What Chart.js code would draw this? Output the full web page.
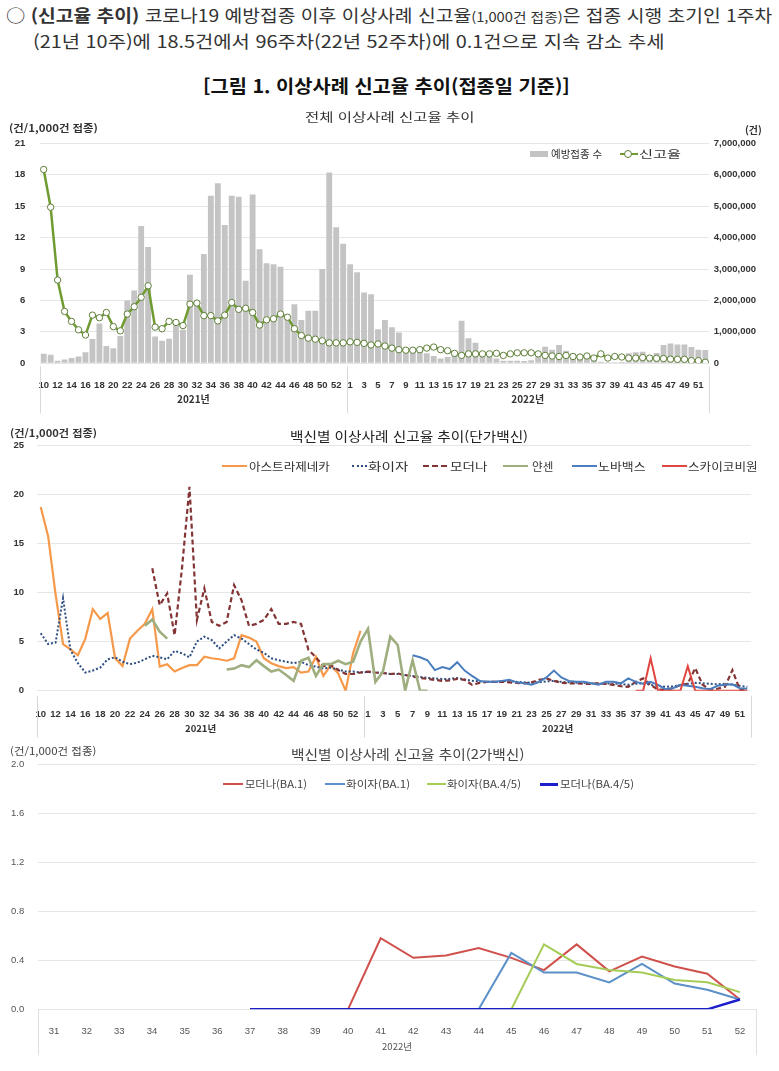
<!DOCTYPE html>
<html lang="ko">
<head>
<meta charset="utf-8">
<script src="https://cdn.jsdelivr.net/npm/chart.js@4.4.1/dist/chart.umd.min.js"></script>
<style>
  body { margin:0; width:779px; height:1071px; background:#fff; position:relative; overflow:hidden;
         font-family:"Noto Sans CJK KR", "Noto Sans", sans-serif; color:#222; }
  canvas { position:absolute; left:0; }
  .t { position:absolute; white-space:nowrap; line-height:1.2; transform-origin:0 50%; }
  .sw { position:absolute; height:0; }
</style>
</head>
<body>
<canvas id="c1" width="779" height="320" style="top:100px"></canvas>
<canvas id="c2" width="779" height="320" style="top:420px"></canvas>
<canvas id="c3" width="779" height="331" style="top:740px"></canvas>
<script>
// ---- categories ----
const weeks2021 = ['10','11','12','13','14','15','16','17','18','19','20','21','22','23','24','25','26','27','28','29','30','31',
  '32','33','34','35','36','37','38','39','40','41','42','43','44','45','46','47','48','49','50','51','52','53'];
const weeks2022 = ['1','2','3','4','5','6','7','8','9','10','11','12','13','14','15','16','17','18','19','20','21','22','23','24','25','26',
  '27','28','29','30','31','32','33','34','35','36','37','38','39','40','41','42','43','44','45','46','47','48','49','50','51','52'];
const yearNames = ['2021년', '2022년'];
const bivalentWeeks = ['31','32','33','34','35','36','37','38','39','40','41','42','43','44','45','46','47','48','49','50','51','52'];

// ---- chart 1: doses (건) and report rate (건/1,000건 접종) ----
const doses2021 = [300000,270000,80000,120000,170000,220000,350000,770000,1270000,550000,480000,870000,2000000,2320000,
  4370000,3700000,850000,720000,780000,1220000,1070000,2820000,1830000,3480000,5330000,5730000,4400000,5330000,5300000,
  2630000,5370000,3630000,3180000,3150000,3070000,1430000,1880000,1380000,1670000,1670000,3000000,6070000,4330000,3800000];
const doses2022 = [3150000,2900000,2250000,2200000,1080000,1380000,1150000,980000,430000,400000,370000,320000,230000,150000,
  200000,280000,1350000,800000,650000,370000,220000,150000,80000,80000,80000,70000,100000,220000,530000,430000,580000,
  400000,300000,250000,170000,130000,50000,30000,30000,40000,320000,350000,370000,230000,330000,580000,630000,600000,
  600000,520000,430000,420000];
const rate2021 = [18.5,14.9,7.95,4.95,4.0,3.2,2.7,4.6,4.35,4.85,3.5,3.1,4.7,5.4,6.3,7.4,3.45,3.3,4.0,3.9,3.6,5.65,5.75,
  4.55,4.55,4.05,4.6,5.8,5.15,5.25,4.85,3.65,4.15,4.25,4.7,4.4,3.3,2.65,2.4,2.3,2.15,1.95,1.95,1.95];
const rate2022 = [2.05,2.0,1.9,1.75,1.85,1.65,1.45,1.3,1.25,1.25,1.3,1.45,1.55,1.3,1.2,0.95,0.75,0.9,0.9,0.9,0.9,0.95,
  0.75,0.9,1.0,1.0,1.0,0.9,0.75,0.7,0.65,0.75,0.65,0.6,0.7,0.5,0.9,0.5,0.65,0.6,0.5,0.5,0.55,0.5,0.48,0.45,0.4,0.38,
  0.38,0.25,0.25,0.1];

// ---- chart 2: single-strain vaccines ----
const az2021 = [18.7,15.7,9.8,4.75,4.2,3.6,5.3,8.3,7.3,7.9,3.3,2.5,5.3,6.1,6.8,8.3,2.45,2.7,1.95,2.3,2.6,2.6,3.45,3.3,
  3.2,3.05,3.3,5.65,5.4,5.0,3.3,2.8,2.5,2.3,2.4,1.85,1.95,3.45,1.5,2.6,1.75,0,3.8,6.1];
const pfizer2021 = [5.85,4.75,4.9,9.4,4.15,2.8,1.85,2.05,2.35,3.2,3.4,2.95,2.7,2.85,3.2,3.55,3.4,3.2,4.05,3.8,3.4,5.0,
  5.5,5.15,4.3,5.0,5.65,5.3,4.75,4.2,3.85,3.3,3.1,2.95,2.8,2.95,2.6,2.45,2.25,2.35,2.15,1.95,1.95,1.85];
const pfizer2022 = [1.9,1.85,1.8,1.7,1.7,1.6,1.5,1.4,1.3,1.25,1.2,1.2,1.3,1.15,1.0,0.95,0.9,0.9,0.95,1.0,0.9,0.85,0.8,
  0.85,0.95,1.0,0.9,0.85,0.8,0.8,0.75,0.7,0.75,0.7,0.7,0.6,0.7,0.75,0.6,0.5,0.4,0.45,0.55,0.7,0.8,0.75,0.7,0.65,0.7,
  0.6,0.5,0.4];
const moderna2021 = [null,null,null,null,null,null,null,null,null,null,null,null,null,null,null,
  12.45,8.7,9.9,5.65,12.5,20.75,7.2,10.4,7.0,6.6,7.0,10.75,9.2,6.6,6.8,7.2,8.3,6.8,6.8,7.0,6.8,4.15,3.4,2.5,2.6,2.1,
  1.7,1.7,1.85];
const moderna2022 = [1.95,1.85,1.8,1.7,1.75,1.6,1.45,1.3,1.2,1.1,1.0,1.05,1.2,1.1,0.6,0.8,0.9,0.9,0.9,0.85,0.8,0.75,
  0.85,1.1,1.25,1.0,0.8,0.75,0.75,0.7,0.7,0.75,0.7,0.6,0.45,0.4,0.9,1.25,0.6,0.1,0.1,0.25,0.6,0.7,2.3,0.6,0.1,0.2,
  0.4,2.1,0.1,0];
const janssen2021 = [null,null,null,null,null,null,null,null,null,null,null,null,null,null,6.6,7.25,6.0,5.3,
  null,null,null,null,null,null,null,2.15,2.25,2.6,2.4,3.1,2.5,1.95,2.15,1.6,1.0,3.05,3.35,1.5,2.7,2.7,3.05,2.7,2.95,5.0];
const janssen2022 = [6.3,0.9,1.9,5.5,4.65,0,3.1,0,0];
const novavax2022 = [null,null,null,null,null,null,3.6,3.4,3.1,2.1,2.4,2.2,2.9,2.05,1.5,1.0,0.9,0.9,1.0,1.1,0.85,0.75,
  0.6,0.9,1.35,2.05,1.35,1.0,0.9,0.9,0.75,0.6,0.9,0.9,0.75,1.25,0.9,0.7,0.9,0.6,0.15,0.25,0.6,0.5,0.4,0.25,0.15,0.5,
  0.6,0.65,0.25,0.2];
const skycovione2022 = [null,null,null,null,null,null,null,null,null,null,null,null,null,null,null,null,null,null,
  null,null,null,null,null,null,null,null,null,null,null,null,null,null,null,null,null,null,
  0,0,3.3,0,0,0,0,2.5,0,0,0,0,0,0,0,0];

// ---- chart 3: bivalent vaccines (2022 weeks 31-52) ----
const modernaBA1 = [null,null,null,null,null,null,null,null,null,0,0.58,0.42,0.44,0.50,0.42,0.32,0.53,0.31,0.43,0.35,0.29,0.08];
const pfizerBA1 = [null,null,null,null,null,null,null,null,null,null,null,null,null,0,0.46,0.30,0.30,0.22,0.37,0.21,0.16,0.08];
const pfizerBA45 = [null,null,null,null,null,null,null,null,null,null,null,null,null,null,0,0.53,0.37,0.32,0.30,0.24,0.22,0.14];
const modernaBA45 = [null,null,null,null,null,null,0,0,0,0,0,0,0,0,0,0,0,0,0,0,0,0.08];

const weekLabels = weeks2021.concat(weeks2022);
const empty2022 = weeks2022.map(() => null);
const padTo2022 = (a) => a.concat(weeks2022.slice(a.length).map(() => null));

// ---- common bits ----
const LAT = 'Liberation Sans, Arial, sans-serif';
const KR = 'Noto Sans CJK KR, sans-serif';
Chart.defaults.font.family = LAT;
Chart.defaults.plugins.legend.display = false;
Chart.defaults.plugins.tooltip.enabled = false;

const groupAxis = {
  id: 'groupAxis',
  afterDraw(chart, args, o) {
    const sx = chart.scales.x, ctx = chart.ctx, b = chart.chartArea.bottom;
    const half = (sx.getPixelForValue(1) - sx.getPixelForValue(0)) / 2;
    ctx.save();
    ctx.strokeStyle = o.lineColor;
    ctx.lineWidth = 1;
    ctx.fillStyle = o.color;
    ctx.font = o.font;
    ctx.textAlign = 'center';
    ctx.textBaseline = 'middle';
    const edges = [sx.getPixelForValue(0) - half];
    let start = 0;
    o.sizes.forEach((n, k) => {
      const l = sx.getPixelForValue(start) - half;
      const r = sx.getPixelForValue(start + n - 1) + half;
      edges.push(r);
      ctx.fillText(o.names[k], (l + r) / 2, b + o.textDy);
      start += n;
    });
    edges.forEach(e => {
      const px = Math.round(e) + 0.5;
      ctx.beginPath();
      ctx.moveTo(px, b + o.lineTop);
      ctx.lineTo(px, b + o.lineBottom);
      ctx.stroke();
    });
    ctx.restore();
  }
};

function everyOther(v, i) { return i % 2 === 0 ? this.getLabelForValue(v) : ''; }

// ---- chart 1 ----
new Chart(document.getElementById('c1'), {
  data: {
    labels: weekLabels,
    datasets: [
      { type: 'line', label: '신고율', data: rate2021.concat(rate2022), yAxisID: 'y',
        borderColor: '#6F9B31', borderWidth: 2.5, tension: 0,
        pointRadius: 3.2, pointBackgroundColor: '#fff', pointBorderColor: '#5F7F3A', pointBorderWidth: 1, order: 0 },
      { type: 'bar', label: '예방접종 수', data: doses2021.concat(doses2022), yAxisID: 'y1',
        backgroundColor: '#C4C4C4', barPercentage: 0.84, categoryPercentage: 1, order: 1 }
    ]
  },
  options: {
    responsive: false, animation: false,
    layout: { padding: { top: 43.3, bottom: 0, left: 0, right: 0 } },
    scales: {
      x: { offset: true, grid: { display: false }, border: { display: false },
           ticks: { autoSkip: false, maxRotation: 0, padding: 8, color: '#333',
                    font: { size: 9.5, weight: 'bold' }, callback: everyOther },
           afterFit(s) { s.height = 56.7; } },
      y: { position: 'left', min: 0, max: 21, border: { display: false },
           grid: { color: '#E6E6E6', drawTicks: false },
           ticks: { stepSize: 3, padding: 15, color: '#333', font: { size: 9.5, weight: 'bold' } },
           afterFit(s) { s.width = 40.2; } },
      y1: { position: 'right', min: 0, max: 7000000, border: { display: false },
            grid: { drawOnChartArea: false, drawTicks: false },
            ticks: { stepSize: 1000000, padding: 5, color: '#333', font: { size: 9.5, weight: 'bold' },
                     callback: v => v.toLocaleString('en-US') },
            afterFit(s) { s.width = 70.2; } }
    },
    plugins: {
      groupAxis: { names: yearNames, sizes: [weeks2021.length, weeks2022.length], textDy: 36,
                   lineTop: 3, lineBottom: 50, lineColor: '#D9D9D9', color: '#333', font: 'bold 10px ' + KR }
    }
  },
  plugins: [groupAxis]
});

// ---- chart 2 ----
const line2 = (label, data, color, extra) => Object.assign({
  label, data, borderColor: color, borderWidth: 2, pointRadius: 0, tension: 0, spanGaps: false
}, extra || {});

new Chart(document.getElementById('c2'), {
  type: 'line',
  data: {
    labels: weekLabels,
    datasets: [
      line2('아스트라제네카', az2021.concat(empty2022), '#F7994A', { borderWidth: 2.2, order: 6 }),
      line2('화이자', pfizer2021.concat(pfizer2022), '#2D4E80', { borderDash: [2, 2], order: 5 }),
      line2('모더나', moderna2021.concat(moderna2022), '#833434', { borderDash: [5, 3], borderWidth: 2.2, order: 4 }),
      line2('얀센', janssen2021.concat(padTo2022(janssen2022)), '#9EAE7F', { borderWidth: 2.6, order: 3 }),
      line2('노바백스', weeks2021.map(() => null).concat(novavax2022), '#4A7EBE', { order: 2 }),
      line2('스카이코비원', weeks2021.map(() => null).concat(skycovione2022), '#E0463F', { order: 1 })
    ]
  },
  options: {
    responsive: false, animation: false,
    layout: { padding: { top: 25, bottom: 0, left: 0, right: 28 } },
    scales: {
      x: { offset: true, grid: { display: false }, border: { display: false },
           ticks: { autoSkip: false, maxRotation: 0, padding: 9.5, color: '#333',
                    font: { size: 9.5, weight: 'bold' }, callback: everyOther },
           afterFit(s) { s.height = 49.3; } },
      y: { min: 0, max: 25, border: { display: false },
           grid: { color: '#E6E6E6', drawTicks: false },
           ticks: { stepSize: 5, padding: 13, color: '#333', font: { size: 9.5, weight: 'bold' } },
           afterFit(s) { s.width = 37; } }
    },
    plugins: {
      groupAxis: { names: yearNames, sizes: [weeks2021.length, weeks2022.length], textDy: 37.6,
                   lineTop: 5, lineBottom: 47, lineColor: '#D9D9D9', color: '#333', font: 'bold 9.5px ' + KR }
    }
  },
  plugins: [groupAxis]
});

// ---- chart 3 ----
new Chart(document.getElementById('c3'), {
  type: 'line',
  data: {
    labels: bivalentWeeks,
    datasets: [
      line2('모더나(BA.1)', modernaBA1, '#D0504C', { order: 4 }),
      line2('화이자(BA.1)', pfizerBA1, '#5B90C8', { order: 3 }),
      line2('화이자(BA.4/5)', pfizerBA45, '#A6CC58', { order: 2 }),
      line2('모더나(BA.4/5)', modernaBA45, '#1D1DCC', { borderWidth: 2.4, order: 1 })
    ]
  },
  options: {
    responsive: false, animation: false,
    layout: { padding: { top: 24.3, bottom: 0, left: 0, right: 22.7 } },
    scales: {
      x: { offset: true, grid: { display: false }, border: { display: false },
           ticks: { autoSkip: false, maxRotation: 0, padding: 8.5, color: '#555', font: { size: 9.5 } },
           afterFit(s) { s.height = 61.7; } },
      y: { min: 0, max: 2, border: { display: false },
           grid: { color: '#E6E6E6', drawTicks: false },
           ticks: { stepSize: 0.4, padding: 13.5, color: '#555', font: { size: 9.5 },
                    callback: v => v.toFixed(1) },
           afterFit(s) { s.width = 37.7; } }
    },
    plugins: {
      groupAxis: { names: ['2022년'], sizes: [bivalentWeeks.length], textDy: 36.7,
                   lineTop: 0, lineBottom: 46, lineColor: '#E0E0E0', color: '#555', font: '9.5px ' + KR }
    }
  },
  plugins: [groupAxis]
});

// ---- html text: header, titles, units, legends ----
function text(html, left, cy, width, css) {
  const el = document.createElement('div');
  el.className = 't';
  el.innerHTML = html;
  el.style.cssText += css || '';
  document.body.appendChild(el);
  el.style.left = left + 'px';
  el.style.top = (cy - el.offsetHeight / 2) + 'px';
  if (width) el.style.transform = 'scaleX(' + (width / el.offsetWidth) + ')';
  return el;
}
function swatch(left, cy, width, css, thick) {
  const el = document.createElement('div');
  el.className = 'sw';
  el.style.cssText = 'left:' + left + 'px;top:' + (cy - thick / 2) + 'px;width:' + width + 'px;border-top:' + css;
  document.body.appendChild(el);
  return el;
}

text('○ <b>(신고율 추이)</b> 코로나19 예방접종 이후 이상사례 신고율<span style="font-size:13px">(1,000건 접종)</span>은 접종 시행 초기인 1주차',
     6, 15, 766, 'font-size:17px;color:#333');
text('(21년 10주)에 18.5건에서 96주차(22년 52주차)에 0.1건으로 지속 감소 추세', 33, 41, 632, 'font-size:17px;color:#333');
text('[그림 1. 이상사례 신고율 추이(접종일 기준)]', 203, 86, 367, 'font-size:18px;font-weight:bold;color:#111');

text('전체 이상사례 신고율 추이', 305, 117, 170, 'font-size:12px;color:#333');
text('(건/1,000건 접종)', 9, 128, 89, 'font-size:10px;font-weight:bold;color:#333');
text('(건)', 745, 130, 17, 'font-size:10px;font-weight:bold;color:#333');
swatch(530, 154, 18, '6px solid #C4C4C4', 6);
text('예방접종 수', 551, 154, 51, 'font-size:10.5px;color:#333');
swatch(620, 154, 18, '2.5px solid #6F9B31', 2.5);
text('<span style="display:inline-block;width:6px;height:6px;border:1px solid #5F7F3A;border-radius:50%;background:#fff"></span>',
     624, 154, 0, 'font-size:8px;line-height:8px');
text('신고율', 639, 154, 42, 'font-size:10.5px;color:#333');

text('백신별 이상사례 신고율 추이(단가백신)', 290, 436, 238, 'font-size:13px;color:#222');
text('(건/1,000건 접종)', 10, 433, 87, 'font-size:10px;font-weight:bold;color:#333');
const leg2 = [
  ['아스트라제네카', 222, 25, '2.5px solid #F7994A', 249, 81],
  ['화이자', 352, 15, '2px dotted #2D4E80', 368, 40],
  ['모더나', 423, 24, '2.5px dashed #833434', 450, 37],
  ['얀센', 503, 25, '2.5px solid #9EAE7F', 532, 21],
  ['노바백스', 572, 25, '2.5px solid #4A7EBE', 598, 47],
  ['스카이코비원', 662, 25, '2.5px solid #E0463F', 688, 70]
];
leg2.forEach(([name, sl, sw, css, tl, tw]) => {
  swatch(sl, 466, sw, css, 2.5);
  text(name, tl, 466, tw, 'font-size:11px;color:#333');
});

text('백신별 이상사례 신고율 추이(2가백신)', 291, 754, 233, 'font-size:13px;color:#444');
text('(건/1,000건 접종)', 10, 751, 86, 'font-size:10px;color:#444');
const leg3 = [
  ['모더나(BA.1)', 223, 20, '2.5px solid #D0504C', 245, 62],
  ['화이자(BA.1)', 325, 20, '2.5px solid #5B90C8', 346, 64],
  ['화이자(BA.4/5)', 427, 19, '2.5px solid #A6CC58', 447, 74],
  ['모더나(BA.4/5)', 540, 18, '3px solid #1D1DCC', 560, 74]
];
leg3.forEach(([name, sl, sw, css, tl, tw]) => {
  swatch(sl, 784, sw, css, 2.5);
  text(name, tl, 784, tw, 'font-size:10.5px;color:#444');
});
</script>
</body>
</html>
